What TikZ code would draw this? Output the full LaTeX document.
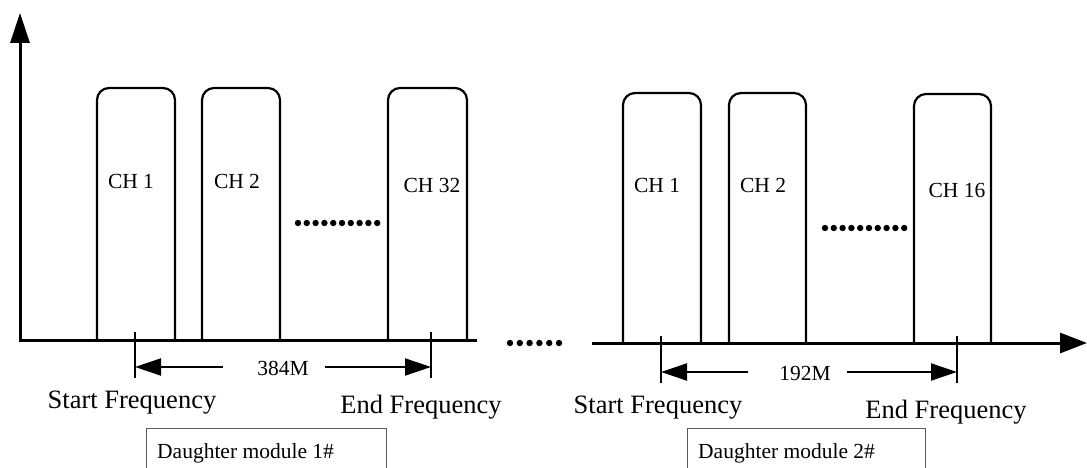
\documentclass[tikz,border=0pt]{standalone}
\usepackage{fontspec}
\setmainfont{Liberation Serif}
\usepackage{tikz}
\usetikzlibrary{arrows.meta}
\definecolor{boxgray}{RGB}{90,90,90}

\begin{document}
\begin{tikzpicture}[x=1pt,y=-1pt,
    axisline/.style={line width=3pt},
    chbox/.style={line width=2.2pt,rounded corners=12pt},
    tickline/.style={line width=2.4pt},
    dimline/.style={line width=2pt,-{Triangle[length=26pt,width=17pt]}},
    modbox/.style={boxgray,line width=1pt},
    chlabel/.style={font=\fontsize{21.5}{24}\selectfont,anchor=base,inner sep=0pt},
    freqlabel/.style={font=\fontsize{26.5}{30}\selectfont,anchor=base,inner sep=0pt},
    modlabel/.style={font=\fontsize{21.5}{24}\selectfont,anchor=base west,inner sep=0pt}]
							\useasboundingbox (0,0) rectangle (1087,468);
							
							% daughter module 1
							\coordinate (O1) at (20,340);
							\coordinate (start1) at (135,367);
							\coordinate (end1) at (431,367);
							\coordinate (a1) at (223,367);
							\coordinate (b1) at (325,367);
							
							\draw[axisline,{Triangle[length=30pt,width=19pt]}-] (20,13) -- (O1) -- (477,340);
							\draw[chbox] (97,340) -- (97,88) -- (175,88) -- (175,340);
							\draw[chbox] (202,340) -- (202,88) -- (280,88) -- (280,340);
							\draw[chbox] (388,340) -- (388,88) -- (467,88) -- (467,340);
							\foreach \i in {0,...,9}
								\fill (298+8.8*\i,223) circle (3.2pt);
							
							\node[chlabel] (ch1a) at (131,188) {CH 1};
							\node[chlabel] (ch2a) at (237,188) {CH 2};
							\node[chlabel] (ch32) at (432,192) {CH 32};
							
							\draw[tickline] (135,332) -- (135,378);
							\draw[tickline] (431,332) -- (431,378);
							\draw[dimline] (a1) -- (start1);
							\draw[dimline] (b1) -- (end1);
							\node[chlabel] (bw1) at (283,375) {384M};
							
							\node[freqlabel] (sf1) at (132,408) {Start Frequency};
							\node[freqlabel] (ef1) at (421,413) {End Frequency};
							
							\draw[modbox] (146,468) -- (146,428) -- (386,428) -- (386,468);
							\node[modlabel] (mod1) at (157,458) {Daughter module 1\#};
							
							% gap between the modules
							\foreach \i in {0,...,5}
								\fill (510+9.8*\i,343) circle (3.2pt);
							
							% daughter module 2
							\coordinate (O2) at (592,343);
							\coordinate (start2) at (661,372);
							\coordinate (end2) at (957,372);
							\coordinate (a2) at (748,372);
							\coordinate (b2) at (847,372);
							
							\draw[axisline,-{Triangle[length=27pt,width=20pt]}] (O2) -- (1087,343);
							\draw[chbox] (623,343) -- (623,93) -- (701,93) -- (701,343);
							\draw[chbox] (729,343) -- (729,93) -- (806,93) -- (806,343);
							\draw[chbox] (914,343) -- (914,94) -- (991,94) -- (991,343);
							\foreach \i in {0,...,9}
								\fill (825+8.8*\i,228) circle (3.2pt);
							
							\node[chlabel] (ch1b) at (657,193) {CH 1};
							\node[chlabel] (ch2b) at (763,193) {CH 2};
							\node[chlabel] (ch16) at (957,197) {CH 16};
							
							\draw[tickline] (661,336) -- (661,383);
							\draw[tickline] (957,336) -- (957,383);
							\draw[dimline] (a2) -- (start2);
							\draw[dimline] (b2) -- (end2);
							\node[chlabel] (bw2) at (805,380) {192M};
							
							\node[freqlabel] (sf2) at (658,413) {Start Frequency};
							\node[freqlabel] (ef2) at (946,418) {End Frequency};
							
							\draw[modbox] (687,468) -- (687,428) -- (925,428) -- (925,468);
							\node[modlabel] (mod2) at (698,458) {Daughter module 2\#};
						\end{tikzpicture}
\end{document}
